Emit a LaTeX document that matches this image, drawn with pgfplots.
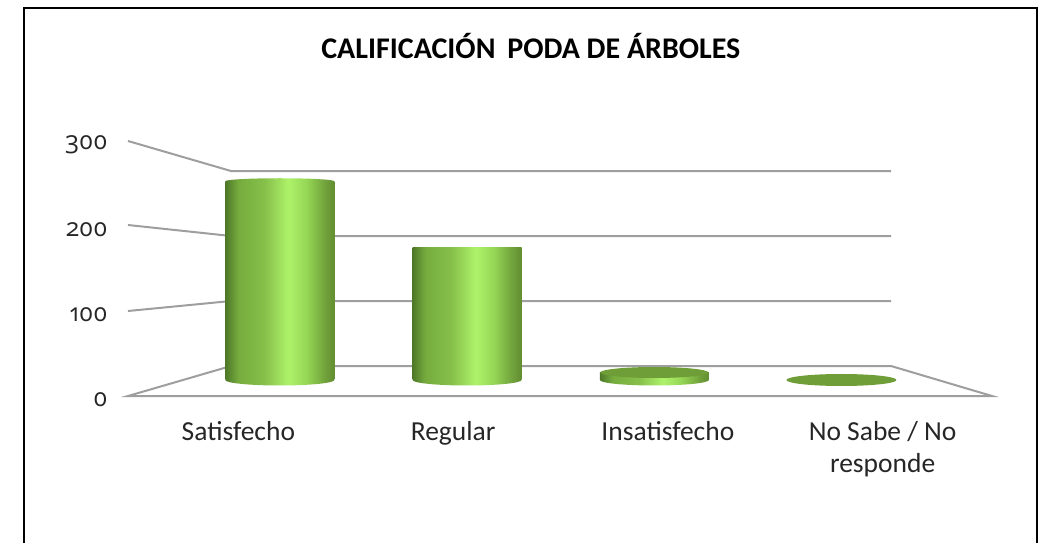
\documentclass[border=0pt]{standalone}
\usepackage{fontspec}
\setmainfont{Carlito}
\newfontfamily\tickfont[Numbers=OldStyle]{Open Sans}
\usepackage{pgfplots}
\pgfplotsset{compat=1.18}
\definecolor{gridg}{RGB}{158,158,158}
\definecolor{capg}{RGB}{111,158,56}
\definecolor{c0}{RGB}{78,120,40}
\definecolor{c1}{RGB}{118,172,62}
\definecolor{c2}{RGB}{134,192,74}
\definecolor{c3}{RGB}{174,242,106}
\definecolor{c4}{RGB}{150,216,86}
\definecolor{c5}{RGB}{112,160,58}
\definecolor{c6}{RGB}{98,142,50}
% cylinder side; the path's bounding box maps to 25bp..75bp
\pgfdeclarehorizontalshading{cyl}{100bp}{color(0bp)=(c0); color(25bp)=(c0); color(31bp)=(c1);
  color(43bp)=(c2); color(54bp)=(c3); color(62bp)=(c4); color(71bp)=(c5); color(75bp)=(c6); color(100bp)=(c6)}
\newcommand{\capellipse}[2]{\pgfpathellipse{\pgfpointorigin}{\pgfqpoint{#1}{0pt}}{\pgfqpoint{0pt}{#2}}}
\pgfdeclareplotmark{cylbase}{\capellipse{54.5pt}{5.5pt}\pgfshadepath{cyl}{0}\pgfusepath{discard}}
\pgfdeclareplotmark{cyldome}{\capellipse{54.5pt}{3pt}\pgfshadepath{cyl}{0}\pgfusepath{discard}}
\pgfdeclareplotmark{cylflat}{\capellipse{54pt}{5.5pt}\pgfsetfillcolor{capg}\pgfusepath{fill}}
\pgfdeclareplotmark{cylthin}{\capellipse{55pt}{6pt}\pgfsetfillcolor{capg}\pgfusepath{fill}}

\begin{document}
\begin{tikzpicture}
\path[use as bounding box] (0,0) rectangle (1043pt,543pt);
% frame, walls and floor, in picture pixels
\begin{axis}[
  at={(0,0)}, anchor=south west, scale only axis,
  width=1043pt, height=543pt,
  xmin=0, xmax=1043, ymin=0, ymax=543, y dir=reverse,
  hide axis,
  title={\bfseries CALIFICACIÓN\, PODA DE ÁRBOLES},
  title style={at={(0.509,0.905)}, anchor=center, font=\fontsize{30}{34}\selectfont},
]
\addplot[black, line width=2pt] coordinates {(24,543) (24,8) (1037,8) (1037,543)};
\addplot[gridg, line width=2pt] coordinates {(128,141) (231,171) (891,171)};
\addplot[gridg, line width=2pt] coordinates {(128,225) (231,236) (891,236)};
\addplot[gridg, line width=2pt] coordinates {(128,311) (231,301) (891,301)};
\addplot[gridg, line width=2pt] coordinates {(231,366) (128,396) (992,396) (891,366) (231,366)};
\end{axis}
% front plane: the tick labels
\begin{axis}[
  at={(131pt,147pt)}, anchor=south west, scale only axis,
  width=859pt, height=255pt,
  xmin=-0.5, xmax=3.5, ymin=0, ymax=300,
  axis line style={draw=none}, major tick style={draw=none},
  xtick={0,1,2,3},
  xticklabels={Satisfecho,Regular,Insatisfecho,{No Sabe / No\\responde}},
  ytick={0,100,200,300},
  /pgf/number format/assume math mode=true,
  xticklabel style={font=\fontsize{27.5}{32}\selectfont, align=center, text=black!85, yshift=-22pt},
  yticklabel style={font=\tickfont\fontsize{25}{28}\selectfont, text=black!85, xshift=-20pt, yshift=-4pt},
]
\end{axis}
% cylinders
\begin{axis}[
  at={(0,0)}, anchor=south west, scale only axis,
  width=1043pt, height=543pt,
  xmin=-1.4947, xmax=4.0765, ymin=-217.33, ymax=506.67,
  hide axis,
]
\addplot[only marks, mark=cylbase] coordinates {(0,0) (1,0) (2,0)};
\addplot[ybar, bar width=109pt, draw=none, shade, shading=cyl] coordinates {(0,265)};
\addplot[ybar, bar width=109pt, draw=none, shade, shading=cyl] coordinates {(1,176)};
\addplot[ybar, bar width=109pt, draw=none, shade, shading=cyl] coordinates {(2,10)};
\addplot[only marks, mark=cyldome] coordinates {(0,265)};
\addplot[only marks, mark=cylflat] coordinates {(2,10)};
\addplot[only marks, mark=cylthin] coordinates {(3,0)};
\end{axis}
\end{tikzpicture}
\end{document}
